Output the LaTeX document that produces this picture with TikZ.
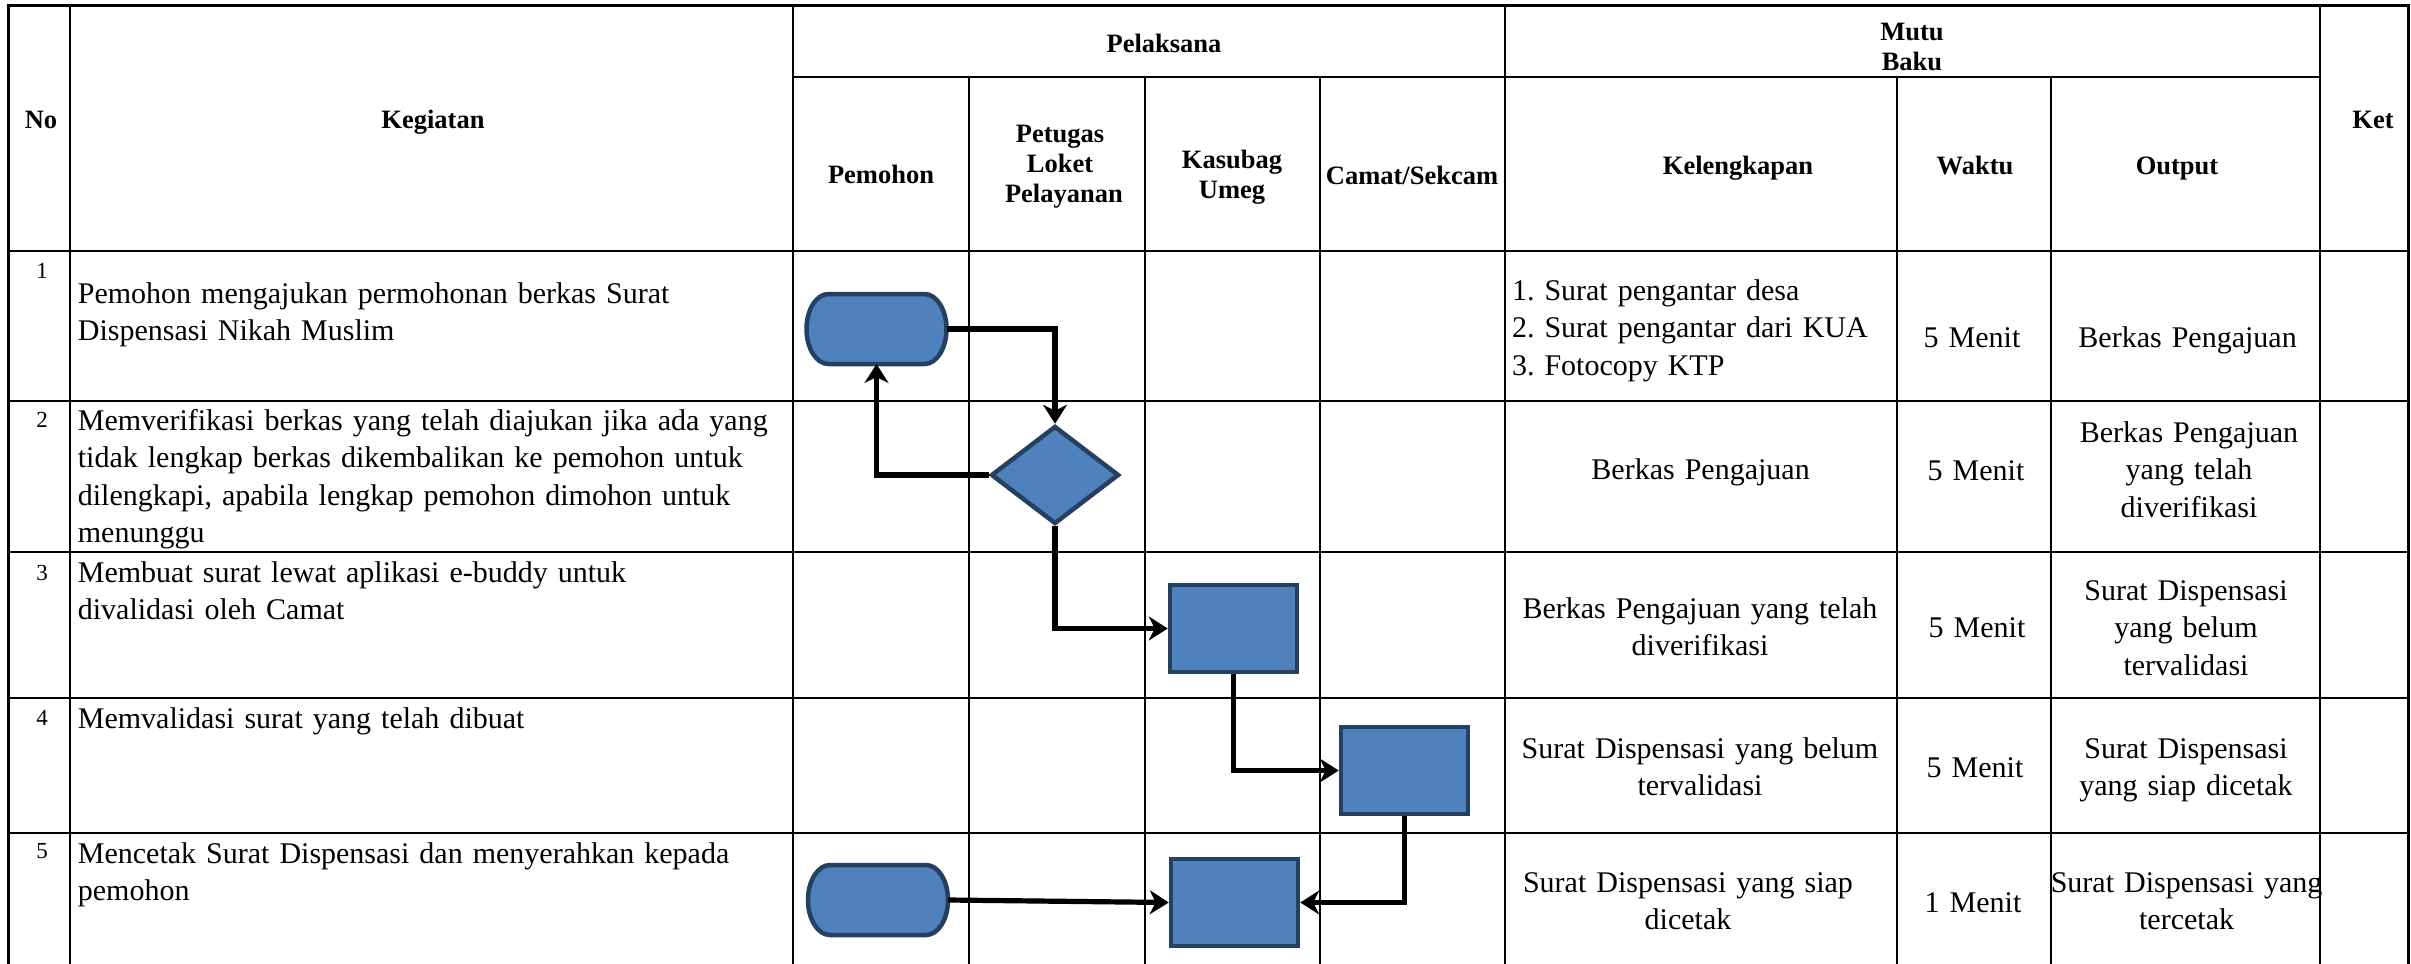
\documentclass[tikz,border=0pt]{standalone}
\usepackage{fontspec}
\setmainfont{Liberation Serif}
\usetikzlibrary{arrows.meta,shapes.geometric}
\definecolor{boxfill}{RGB}{79,129,189}
\definecolor{boxline}{RGB}{37,64,97}
\newcommand\hdfont{\fontsize{13.25pt}{15pt}\selectfont\bfseries}
\newcommand\bodyfont{\fontsize{15pt}{18.8pt}\selectfont\frenchspacing\hyphenpenalty=10000 }
\newcommand\numfont{\fontsize{11.5pt}{13pt}\selectfont}
\begin{document}
\begin{tikzpicture}[x=0.5pt,y=-0.5pt,
  grid/.style={line width=1pt,black},
  thingrid/.style={line width=0.6pt,black},
  border/.style={line width=1.5pt,black},
  hd/.style={font=\hdfont,inner sep=0pt,anchor=base,align=center},
  num/.style={font=\numfont,inner sep=0pt,anchor=base},
  kg/.style={font=\bodyfont,inner sep=0pt,anchor=base west,align=left,text width=360pt},
  cc/.style={font=\bodyfont,inner sep=0pt,anchor=base,align=center,text width=230pt},
  termnode/.style={draw=none,inner sep=0pt,outer sep=0pt,minimum width=70pt,minimum height=35pt},
  shapeline/.style={draw=boxline,fill=boxfill,line width=2.25pt},
  flowbox/.style={shapeline,rectangle,inner sep=0pt,minimum width=63.5pt,minimum height=43.5pt},
  flowdec/.style={shapeline,diamond,inner sep=0pt,minimum width=64pt,minimum height=49pt},
  arr/.style={line width=2.6pt,black,-{Stealth[length=9.5pt,width=12pt,inset=3pt]}}
]
\useasboundingbox (0,0) rectangle (2411,964);

% ---- table grid ----
\foreach \x in {70,793,1504.5,2320} \draw[grid] (\x,5) -- (\x,964);
\foreach \x in {969,1145,1320,2051} \draw[grid] (\x,77) -- (\x,964);
\draw[thingrid] (1897,77) -- (1897,964);
\draw[grid] (793,77) -- (2320,77);
\foreach \y in {251,401,552,698,833} \draw[grid] (8,\y) -- (2408,\y);
\draw[border] (8,964) -- (8,5) -- (2408,5) -- (2408,964);

% ---- header ----
\node[hd] (hno) at (41,128) {No};
\node[hd] (hkeg) at (433,128) {Kegiatan};
\node[hd] (hpel) at (1164,52) {Pelaksana};
\node[hd] (hpem) at (881,183) {Pemohon};
\node[hd,text width=55pt] (hpet) at (1060,142) {Petugas\\Loket\\Pelayanan};
\node[hd,text width=55pt] (hkas) at (1232,168) {Kasubag\\Umeg};
\node[hd] (hcam) at (1412,184) {Camat/Sekcam};
\node[hd,text width=60pt] (hmutu) at (1912,40) {Mutu\\Baku};
\node[hd] (hkel) at (1738,174) {Kelengkapan};
\node[hd] (hwak) at (1975,174) {Waktu};
\node[hd] (hout) at (2177,174) {Output};
\node[hd] (hket) at (2373,128) {Ket};

% ---- numbers ----
\node[num] (n1) at (42,278) {1};
\node[num] (n2) at (42,427) {2};
\node[num] (n3) at (42,580) {3};
\node[num] (n4) at (42,725) {4};
\node[num] (n5) at (42,858) {5};

% ---- kegiatan ----
\node[kg] (k1) at (77.5,303) {Pemohon mengajukan permohonan berkas Surat\\Dispensasi Nikah Muslim};
\node[kg] (k2) at (77.5,430) {Memverifikasi berkas yang telah diajukan jika ada yang\\tidak lengkap berkas dikembalikan ke pemohon untuk\\dilengkapi, apabila lengkap pemohon dimohon untuk\\menunggu};
\node[kg] (k3) at (77.5,582) {Membuat surat lewat aplikasi e-buddy untuk\\divalidasi oleh Camat};
\node[kg] (k4) at (77.5,728) {Memvalidasi surat yang telah dibuat};
\node[kg] (k5) at (77.5,863) {Mencetak Surat Dispensasi dan menyerahkan kepada\\pemohon};

% ---- mutu baku ----
\node[kg,text width=190pt] (c1) at (1511.6,300) {1. Surat pengantar desa\\2. Surat pengantar dari KUA\\3. Fotocopy KTP};
\node[cc] (w1) at (1972,347) {5 Menit};
\node[cc] (o1) at (2187.6,347) {Berkas Pengajuan};

\node[cc] (c2) at (1700.6,479) {Berkas Pengajuan};
\node[cc] (w2) at (1976,480) {5 Menit};
\node[cc] (o2) at (2189,442) {Berkas Pengajuan\\yang telah\\diverifikasi};

\node[cc] (c3) at (1700,618) {Berkas Pengajuan yang telah\\diverifikasi};
\node[cc] (w3) at (1977,637) {5 Menit};
\node[cc] (o3) at (2186,600) {Surat Dispensasi\\yang belum\\tervalidasi};

\node[cc] (c4) at (1700,758) {Surat Dispensasi yang belum\\tervalidasi};
\node[cc] (w4) at (1975,777) {5 Menit};
\node[cc] (o4) at (2186,758) {Surat Dispensasi\\yang siap dicetak};

\node[cc] (c5) at (1688,892) {Surat Dispensasi yang siap\\dicetak};
\node[cc] (w5) at (1973,912) {1 Menit};
\node[cc] (o5) at (2186.6,892) {Surat Dispensasi yang\\tercetak};

% ---- flow shapes ----
\node[termnode] (t1) at (876.5,329) {};
\draw[shapeline] ([xshift=11pt]t1.north west) -- ([xshift=-11pt]t1.north east)
  arc[start angle=90,end angle=-90,x radius=11pt,y radius=17.5pt]
  -- ([xshift=11pt]t1.south west)
  arc[start angle=270,end angle=90,x radius=11pt,y radius=17.5pt] -- cycle;
\node[flowdec] (d2) at (1055,475) {};
\node[flowbox] (b3) at (1233.5,628.5) {};
\node[flowbox] (b4) at (1404.5,770.5) {};
\node[flowbox] (b5) at (1234.5,902.5) {};
\node[termnode] (t5) at (878,900) {};
\draw[shapeline] ([xshift=11pt]t5.north west) -- ([xshift=-11pt]t5.north east)
  arc[start angle=90,end angle=-90,x radius=11pt,y radius=17.5pt]
  -- ([xshift=11pt]t5.south west)
  arc[start angle=270,end angle=90,x radius=11pt,y radius=17.5pt] -- cycle;

% ---- connectors ----
\draw[arr] (t1.east) -| (d2.north);
\draw[arr] (d2.west) -| (t1.south);
\draw[arr] (d2.south) |- (b3.west);
\draw[arr] (b3.south) |- (b4.west);
\draw[arr] (t5.east) -- (b5.west);
\draw[arr] (b4.south) |- (b5.east);
\end{tikzpicture}
\end{document}
